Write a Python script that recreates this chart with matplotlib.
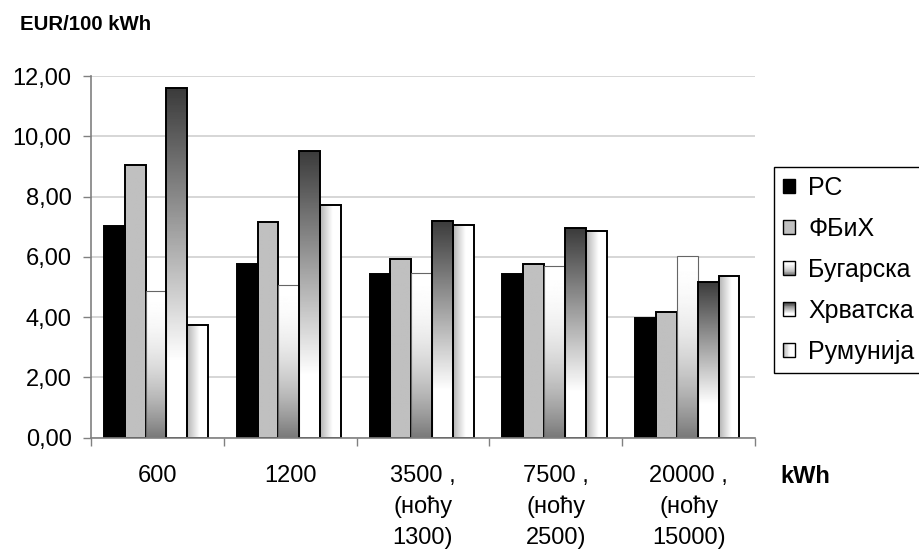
import numpy as np
import matplotlib
matplotlib.use("Agg")
import matplotlib.pyplot as plt
from matplotlib.patches import Rectangle, Patch
from matplotlib.legend_handler import HandlerBase
from matplotlib.ticker import FixedLocator, FuncFormatter

plt.rcParams['font.family'] = ['Liberation Sans', 'DejaVu Sans']

categories = ["600", "1200", "3500 ,\n(ноћу\n1300)", "7500 ,\n(ноћу\n2500)", "20000 ,\n(ноћу\n15000)"]
series_names = ["РС", "ФБиХ", "Бугарска", "Хрватска", "Румунија"]
rs = [7.03, 5.77, 5.44, 5.44, 3.98]
fbih = [9.06, 7.14, 5.93, 5.76, 4.17]
bugarska = [4.88, 5.08, 5.48, 5.68, 6.02]
hrvatska = [11.59, 9.52, 7.20, 6.95, 5.15]
rumunija = [3.75, 7.73, 7.07, 6.87, 5.35]
y_ticks = [0, 2, 4, 6, 8, 10, 12]
y_label = "EUR/100 kWh"
x_label = "kWh"

series_values = [rs, fbih, bugarska, hrvatska, rumunija]


# colour functions: t in [0,1] along gradient direction -> gray level
def g_black(t):
    return np.zeros_like(t)


def g_gray(t):
    return np.full_like(t, 0.753)


def g_bug(t):  # t=0 top -> white, t=1 bottom -> gray
    return 1.0 - 0.53 * t ** 2


def g_hrv(t):  # t=0 top dark -> white toward bottom
    return 0.23 + 0.77 * np.minimum(1.0, t / 0.78)


def g_rum(t):  # t=0 left gray -> white to the right
    return 0.70 + 0.30 * np.minimum(1.0, t / 0.6)


styles = [
    dict(func=g_black, orient='v', edge='black', lw=1.4),
    dict(func=g_gray, orient='v', edge='black', lw=1.4),
    dict(func=g_bug, orient='v', edge='#666666', lw=0.8),
    dict(func=g_hrv, orient='v', edge='black', lw=1.4),
    dict(func=g_rum, orient='h', edge='black', lw=1.4),
]

FS = 17

fig = plt.figure(figsize=(9.19, 5.5), dpi=100)
ax = fig.add_axes([91 / 919, 1 - 437.7 / 550, (755 - 91) / 919, (437.7 - 76) / 550])

x = np.arange(len(categories))
bw = 0.157
shift = -0.01
n = 200
for k, (vals, st) in enumerate(zip(series_values, styles)):
    bars = ax.bar(x + shift + (k - 2) * bw, vals, width=bw, facecolor='none',
                  edgecolor=st['edge'], linewidth=st['lw'], zorder=4)
    for r in bars:
        x0, w, h = r.get_x(), r.get_width(), r.get_height()
        t = (np.arange(n) + 0.5) / n
        if st['orient'] == 'v':
            img = st['func'](t)[:, None]  # row 0 = top
        else:
            img = st['func'](t)[None, :]
        ax.imshow(img, extent=[x0, x0 + w, 0, h], origin='upper', cmap='gray',
                  vmin=0, vmax=1, aspect='auto', interpolation='bilinear', zorder=3)

ax.set_xlim(-0.5, len(categories) - 0.5)
ax.set_ylim(0, 12)
ax.set_aspect('auto')

ax.set_yticks(y_ticks)
ax.yaxis.set_major_formatter(FuncFormatter(lambda v, p: f"{v:.2f}".replace('.', ',')))
ax.yaxis.grid(True, color='#d6d6d6', linewidth=1.4, zorder=0)
ax.set_axisbelow(True)

ax.set_xticks(x)
ax.set_xticklabels(categories, linespacing=1.5)
ax.xaxis.set_minor_locator(FixedLocator(np.arange(len(categories) + 1) - 0.5))
ax.tick_params(axis='x', which='major', length=0, pad=19.5, labelsize=FS)
ax.tick_params(axis='x', which='minor', length=5.5, color='#808080', width=1)
ax.tick_params(axis='y', which='major', length=6, color='#808080', width=1, pad=8, labelsize=FS)

for s in ['top', 'right']:
    ax.spines[s].set_visible(False)
for s in ['left', 'bottom']:
    ax.spines[s].set_color('#808080')
    ax.spines[s].set_linewidth(1.2)
ax.spines['bottom'].set_zorder(5)

fig.text(20 / 919, 1 - 25 / 550, y_label, fontsize=14.7, fontweight='bold', va='center', ha='left')
fig.text(780 / 919, 1 - 483 / 550, x_label, fontsize=FS, fontweight='bold', va='baseline', ha='left')


class GradHandler(HandlerBase):
    def __init__(self, func, orient, edge, lw):
        super().__init__()
        self.func, self.orient, self.edge, self.lw = func, orient, edge, lw

    def create_artists(self, legend, orig_handle, xdescent, ydescent, width, height, fontsize, trans):
        arts = []
        m = 16
        x0, y0 = -xdescent, -ydescent
        for i in range(m):
            t = np.array([(i + 0.5) / m])
            c = float(self.func(t)[0])
            if self.orient == 'v':
                r = Rectangle((x0, y0 + height * (1 - (i + 1) / m)), width, height / m + 0.01,
                              facecolor=(c, c, c), edgecolor='none', transform=trans)
            else:
                r = Rectangle((x0 + width * i / m, y0), width / m + 0.01, height,
                              facecolor=(c, c, c), edgecolor='none', transform=trans)
            arts.append(r)
        arts.append(Rectangle((x0, y0), width, height, facecolor='none', edgecolor='black',
                              linewidth=1.0, transform=trans))
        return arts


proxies = [Patch(label=nm) for nm in series_names]
hmap = {p: GradHandler(st['func'], st['orient'], st['edge'], st['lw']) for p, st in zip(proxies, styles)}
LFS = 18
leg = fig.legend(handles=proxies, labels=series_names, handler_map=hmap,
                 loc='upper left', bbox_to_anchor=(774 / 919, 1 - 167 / 550),
                 borderaxespad=0, fontsize=LFS, handlelength=0.48, handleheight=0.48,
                 handletextpad=0.52, labelspacing=0.68, borderpad=0.36, fancybox=False,
                 edgecolor='black', framealpha=1)
leg.get_frame().set_linewidth(1.0)

fig.savefig("out.png", dpi=100)
